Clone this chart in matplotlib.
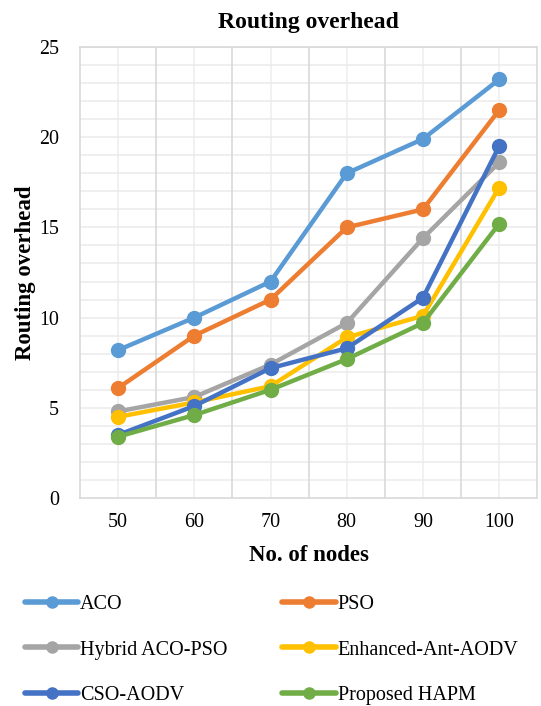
import matplotlib
matplotlib.use("Agg")
import matplotlib.pyplot as plt
import numpy as np

plt.rcParams['font.family'] = ['Liberation Serif', 'DejaVu Serif']

nodes = ["50", "60", "70", "80", "90", "100"]

aco = [8.2, 10.0, 12.0, 18.0, 19.9, 23.2]
pso = [6.1, 9.0, 11.0, 15.0, 16.0, 21.5]
hybrid = [4.8, 5.6, 7.4, 9.7, 14.4, 18.6]
enhanced = [4.5, 5.3, 6.2, 8.9, 10.1, 17.2]
cso = [3.5, 5.1, 7.2, 8.3, 11.1, 19.5]
hapm = [3.4, 4.6, 6.0, 7.7, 9.7, 15.2]

series = [
    ("ACO", aco, "#5B9BD5"),
    ("PSO", pso, "#ED7D31"),
    ("Hybrid ACO-PSO", hybrid, "#A5A5A5"),
    ("Enhanced-Ant-AODV", enhanced, "#FFC000"),
    ("CSO-AODV", cso, "#4472C4"),
    ("Proposed HAPM", hapm, "#70AD47"),
]

fig = plt.figure(figsize=(5.41, 7.06), dpi=100)
ax = fig.add_axes([0.148, 0.2946, 0.845, 0.6388])

x = np.arange(len(nodes))
lines = []
for i, (name, vals, col) in enumerate(series):
    ln, = ax.plot(x, vals, color=col, lw=3.2, marker="o", ms=10,
                  label=name, zorder=3 + i, solid_capstyle="round")
    lines.append(ln)

ax.set_xlim(-0.5, len(nodes) - 0.5)
ax.set_ylim(0, 25)
ax.set_xticks(x)
ax.set_xticklabels(nodes)
ax.set_yticks(np.arange(0, 26, 5))

# grid: darker lines between categories, light lines at categories and every unit
ax.grid(False)
for xb in np.arange(0.5, len(nodes) - 0.5, 1):
    ax.axvline(xb, color="#d9d9d9", lw=1.2, zorder=1)
for xc in x:
    ax.axvline(xc, color="#efefef", lw=1.2, zorder=0.5)
for yv in np.arange(1, 26, 1):
    ax.axhline(yv, color="#ececec", lw=1.2, zorder=0.5)

ax.tick_params(which="both", length=0)
ax.tick_params(axis="x", labelsize=14.4, pad=11)
ax.tick_params(axis="y", labelsize=14.4, pad=15)
for s in ax.spines.values():
    s.set_color("#d9d9d9")
    s.set_linewidth(1.2)

ax.set_title("Routing overhead", fontsize=17, fontweight="bold", pad=14)
ax.set_xlabel("No. of nodes", fontsize=16.5, fontweight="bold", labelpad=9)
ax.set_ylabel("Routing overhead", fontsize=16.5, fontweight="bold", labelpad=2)

# row-major order like the reference legend
order = [0, 2, 4, 1, 3, 5]
leg = fig.legend([lines[k] for k in order], [series[k][0] for k in order],
                 loc="upper left", bbox_to_anchor=(0.046, 0.157), ncol=2,
                 frameon=False, fontsize=14.5, handlelength=2.65,
                 handletextpad=0.1, columnspacing=2.7, labelspacing=1.3,
                 borderaxespad=0, borderpad=0)
for h in leg.legend_handles:
    h.set_linewidth(4)
    h.set_markersize(8)

fig.savefig("out.png", dpi=100)
